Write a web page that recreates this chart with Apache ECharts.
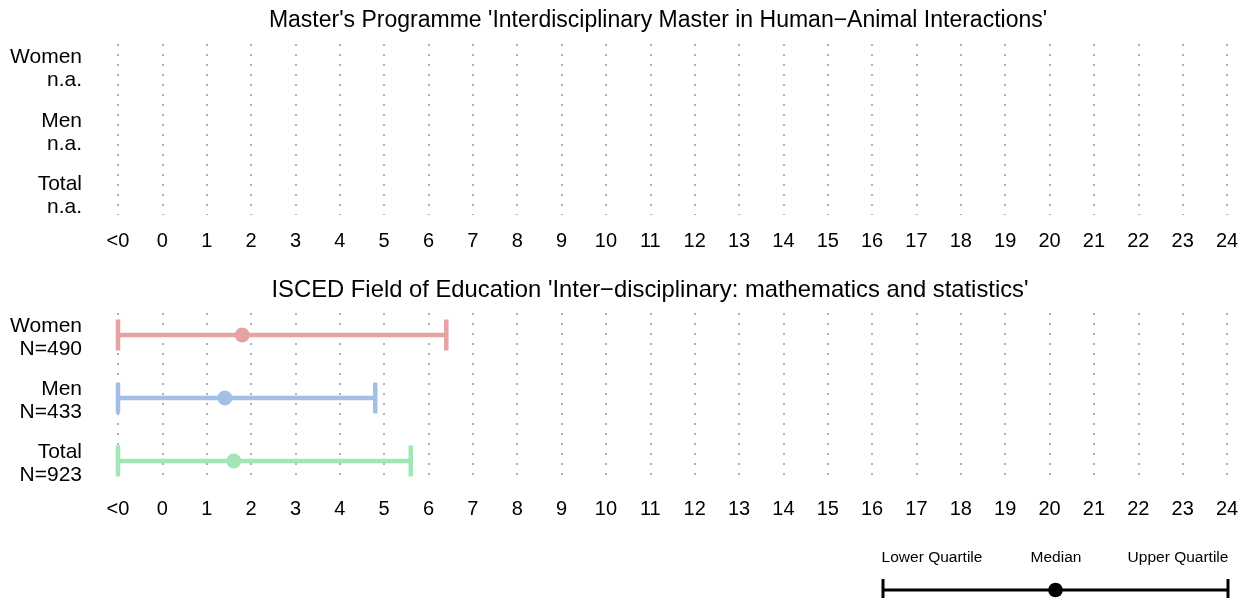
<!DOCTYPE html>
<html>
<head>
<meta charset="utf-8">
<script src="https://cdn.jsdelivr.net/npm/echarts@6/dist/echarts.min.js"></script>
<style>
  html, body { margin: 0; padding: 0; background: #fff; }
  #chart { width: 1252px; height: 598px; }
</style>
</head>
<body>
<div id="chart"></div>
<script>
// x ticks: -1 stands for "<0"
var tickValues = [-1, 0, 1, 2, 3, 4, 5, 6, 7, 8, 9, 10, 11, 12, 13, 14, 15, 16, 17, 18, 19, 20, 21, 22, 23, 24];
var tickLabels = ['<0', '0', '1', '2', '3', '4', '5', '6', '7', '8', '9', '10', '11', '12', '13', '14', '15', '16', '17', '18', '19', '20', '21', '22', '23', '24'];

var groups = ['Women', 'Men', 'Total'];
var colors = ['#e6a3a3', '#a3bfe6', '#a3e6b5'];

// panel 1: master's programme (no data)
var title1 = "Master's Programme 'Interdisciplinary Master in Human\u2212Animal Interactions'";
var counts1 = ['n.a.', 'n.a.', 'n.a.'];

// panel 2: ISCED field
var title2 = "ISCED Field of Education 'Inter\u2212disciplinary: mathematics and statistics'";
var counts2 = ['N=490', 'N=433', 'N=923'];
var lower2 = [-1, -1, -1];
var median2 = [1.8, 1.41, 1.61];
var upper2 = [6.4, 4.8, 5.6];

var font = 'Liberation Sans, Arial, Helvetica, sans-serif';
var myChart = echarts.init(document.getElementById('chart'));

function makeX(idx) {
	return {
		type: 'value', gridIndex: idx, min: -1, max: 24, interval: 1,
		axisLine: { show: false }, axisTick: { show: false },
		axisLabel: {
			margin: 16, fontSize: 20, color: '#000', fontFamily: font,
			formatter: function (v) { return tickLabels[tickValues.indexOf(v)]; }
		},
		splitLine: { show: true, lineStyle: { color: '#b0b0b0', width: 2, type: [2, 8] } }
	};
}

function makeY(idx, counts) {
	return {
		type: 'value', gridIndex: idx, min: -0.35, max: 2.35, inverse: true,
		axisLine: { show: false }, axisTick: { show: false }, splitLine: { show: false },
		axisLabel: {
			customValues: [0, 1, 2], margin: 36,
			color: '#000', fontFamily: font, align: 'right',
			// small empty first line pushes the two-line label a few px down
			formatter: function (v) { return '{p| }\n{g|' + groups[v] + '}\n{g|' + counts[v] + '}'; },
			rich: {
				p: { fontSize: 1, lineHeight: 6 },
				g: { fontSize: 21, lineHeight: 23, fontFamily: font, color: '#000', align: 'right' }
			}
		}
	};
}

var rows = [];
for (var i = 0; i < groups.length; i++) {
	rows.push([i, lower2[i], median2[i], upper2[i]]);
}

var option = {
	animation: false,
	textStyle: { fontFamily: font },
	title: [
		{ text: title1, left: 653, top: 4, textAlign: 'center',
		  textStyle: { fontSize: 23, fontWeight: 'normal', color: '#000', fontFamily: font } },
		{ text: title2, left: 645, top: 273, textAlign: 'center',
		  textStyle: { fontSize: 23.8, fontWeight: 'normal', color: '#000', fontFamily: font } }
	],
	grid: [
		{ left: 118, right: 25, top: 44, height: 171 },
		{ left: 118, right: 25, top: 313, height: 170 }
	],
	xAxis: [makeX(0), makeX(1)],
	yAxis: [makeY(0, counts1), makeY(1, counts2)],
	series: [
		{
			type: 'custom', xAxisIndex: 0, yAxisIndex: 0, data: []
		},
		{
			type: 'custom', xAxisIndex: 1, yAxisIndex: 1, clip: false,
			encode: { x: [1, 2, 3], y: 0 },
			data: rows,
			renderItem: function (params, api) {
				var r = api.value(0);
				var c = colors[r];
				var lo = api.coord([api.value(1), r]);
				var md = api.coord([api.value(2), r]);
				var up = api.coord([api.value(3), r]);
				var h = 15.5;
				var st = { stroke: c, lineWidth: 4.5 };
				return {
					type: 'group',
					children: [
						{ type: 'line', shape: { x1: lo[0], y1: lo[1], x2: up[0], y2: up[1] }, style: st },
						{ type: 'line', shape: { x1: lo[0], y1: lo[1] - h, x2: lo[0], y2: lo[1] + h }, style: st },
						{ type: 'line', shape: { x1: up[0], y1: up[1] - h, x2: up[0], y2: up[1] + h }, style: st },
						{ type: 'circle', shape: { cx: md[0], cy: md[1], r: 7.5 }, style: { fill: c } }
					]
				};
			}
		}
	],
	graphic: [
		{ type: 'line', shape: { x1: 883, y1: 590, x2: 1228, y2: 590 }, style: { stroke: '#000', lineWidth: 3 } },
		{ type: 'line', shape: { x1: 883, y1: 579, x2: 883, y2: 600 }, style: { stroke: '#000', lineWidth: 3 } },
		{ type: 'line', shape: { x1: 1228, y1: 579, x2: 1228, y2: 600 }, style: { stroke: '#000', lineWidth: 3 } },
		{ type: 'circle', shape: { cx: 1055.5, cy: 590, r: 7.3 }, style: { fill: '#000' } },
		{ type: 'text', x: 932, y: 558, style: { text: 'Lower Quartile', fontSize: 15.5, fontFamily: font, fill: '#000', align: 'center', verticalAlign: 'middle' } },
		{ type: 'text', x: 1056, y: 558, style: { text: 'Median', fontSize: 15.5, fontFamily: font, fill: '#000', align: 'center', verticalAlign: 'middle' } },
		{ type: 'text', x: 1178, y: 558, style: { text: 'Upper Quartile', fontSize: 15.5, fontFamily: font, fill: '#000', align: 'center', verticalAlign: 'middle' } }
	]
};

myChart.setOption(option);
</script>
</body>
</html>
